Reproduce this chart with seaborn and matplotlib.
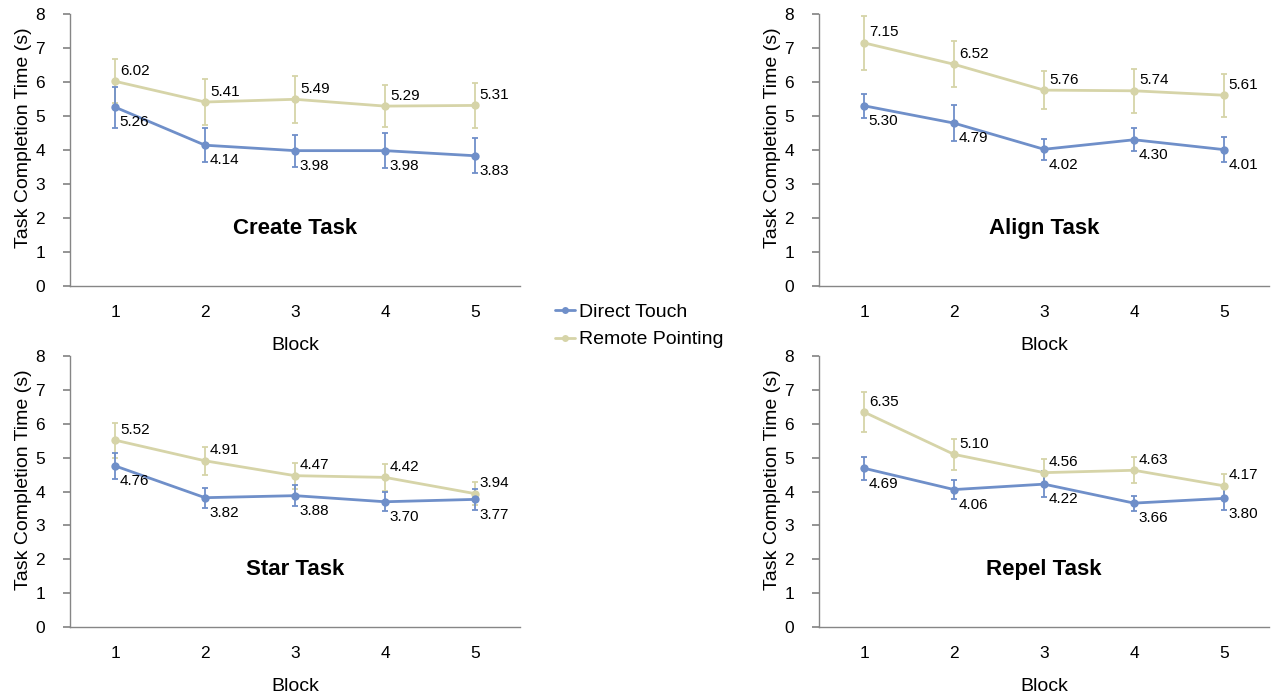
import numpy as np
import pandas as pd
import matplotlib
matplotlib.use("Agg")
import matplotlib.pyplot as plt
import seaborn as sns
from matplotlib.lines import Line2D

# Data
blocks = [1, 2, 3, 4, 5]
tasks = ["Create Task", "Align Task", "Star Task", "Repel Task"]

touch_means = {
    "Create Task": [5.26, 4.14, 3.98, 3.98, 3.83],
    "Align Task": [5.30, 4.79, 4.02, 4.30, 4.01],
    "Star Task": [4.76, 3.82, 3.88, 3.70, 3.77],
    "Repel Task": [4.69, 4.06, 4.22, 3.66, 3.80],
}
touch_err = {
    "Create Task": [0.60, 0.50, 0.47, 0.51, 0.51],
    "Align Task": [0.35, 0.52, 0.31, 0.34, 0.37],
    "Star Task": [0.38, 0.30, 0.32, 0.28, 0.32],
    "Repel Task": [0.34, 0.28, 0.39, 0.22, 0.35],
}
remote_means = {
    "Create Task": [6.02, 5.41, 5.49, 5.29, 5.31],
    "Align Task": [7.15, 6.52, 5.76, 5.74, 5.61],
    "Star Task": [5.52, 4.91, 4.47, 4.42, 3.94],
    "Repel Task": [6.35, 5.10, 4.56, 4.63, 4.17],
}
remote_err = {
    "Create Task": [0.65, 0.68, 0.70, 0.62, 0.66],
    "Align Task": [0.80, 0.68, 0.55, 0.65, 0.63],
    "Star Task": [0.52, 0.41, 0.38, 0.41, 0.33],
    "Repel Task": [0.59, 0.46, 0.40, 0.39, 0.35],
}

blue = "#6f8fc9"
beige = "#d6d4a8"
palette = {"Direct Touch": blue, "Remote Pointing": beige}

sns.set_theme(style="white")
plt.rcParams["font.family"] = ["Liberation Sans", "DejaVu Sans"]
plt.rcParams["text.color"] = "black"
plt.rcParams["axes.labelcolor"] = "black"

fig = plt.figure(figsize=(12.71, 6.98), dpi=100)

# axes positions in figure fractions (left, bottom, width, height)
positions = [
    (0.0551, 0.5903, 0.354, 0.3897),
    (0.6444, 0.5903, 0.354, 0.3897),
    (0.0551, 0.1017, 0.354, 0.388),
    (0.6444, 0.1017, 0.354, 0.388),
]

for task, pos in zip(tasks, positions):
    ax = fig.add_axes(pos)
    df = pd.DataFrame({
        "Block": blocks * 2,
        "Time": touch_means[task] + remote_means[task],
        "Technique": ["Direct Touch"] * 5 + ["Remote Pointing"] * 5,
    })
    # remote first so touch is drawn on top
    for tech, means, errs in [("Remote Pointing", remote_means[task], remote_err[task]),
                              ("Direct Touch", touch_means[task], touch_err[task])]:
        ax.errorbar(blocks, means, yerr=errs, fmt="none", ecolor=palette[tech],
                    elinewidth=1.3, capsize=2.5, capthick=1.3, zorder=2)
    sns.lineplot(data=df, x="Block", y="Time", hue="Technique", hue_order=["Remote Pointing", "Direct Touch"],
                 palette=palette, marker="o", markersize=6, markeredgewidth=0, linewidth=2,
                 legend=False, ax=ax, zorder=3)

    for b, v in zip(blocks, remote_means[task]):
        ax.annotate(f"{v:.2f}", (b, v), xytext=(3.5, 7.5), textcoords="offset points",
                    ha="left", va="center", fontsize=11)
    for b, v in zip(blocks, touch_means[task]):
        ax.annotate(f"{v:.2f}", (b, v), xytext=(3, -11), textcoords="offset points",
                    ha="left", va="center", fontsize=11)

    ax.text(3, 1.7, task, ha="center", va="center", fontsize=16, fontweight="bold")

    ax.set_xlim(0.5, 5.5)
    ax.set_ylim(0, 8)
    ax.set_yticks(range(0, 9))
    ax.set_xticks(blocks)
    ax.set_xticks([0.5, 1.5, 2.5, 3.5, 4.5, 5.5], minor=True)
    ax.tick_params(axis="x", which="major", length=0, labelsize=12.5, pad=14, labelcolor="black")
    ax.tick_params(axis="x", which="minor", length=5, color="#868686", direction="out")
    ax.tick_params(axis="y", length=5, color="#868686", direction="out", labelsize=12.5,
                   left=True, pad=13, labelcolor="black")
    ax.set_xlabel("Block", fontsize=14, labelpad=12)
    ax.set_ylabel("Task Completion Time (s)", fontsize=14)
    ax.yaxis.set_label_coords(-0.084, 0.544)
    sns.despine(ax=ax)
    for s in ["left", "bottom"]:
        ax.spines[s].set_color("#868686")
        ax.spines[s].set_linewidth(1)

handles = [Line2D([0], [0], color=blue, marker="o", markersize=5, lw=2, markeredgewidth=0),
           Line2D([0], [0], color=beige, marker="o", markersize=5, lw=2, markeredgewidth=0)]
fig.legend(handles, ["Direct Touch", "Remote Pointing"], loc="center left",
           bbox_to_anchor=(0.423, 0.533), frameon=False, fontsize=14,
           handlelength=1.0, handletextpad=0.25, labelspacing=0.5)

fig.savefig("out.png", dpi=100)
